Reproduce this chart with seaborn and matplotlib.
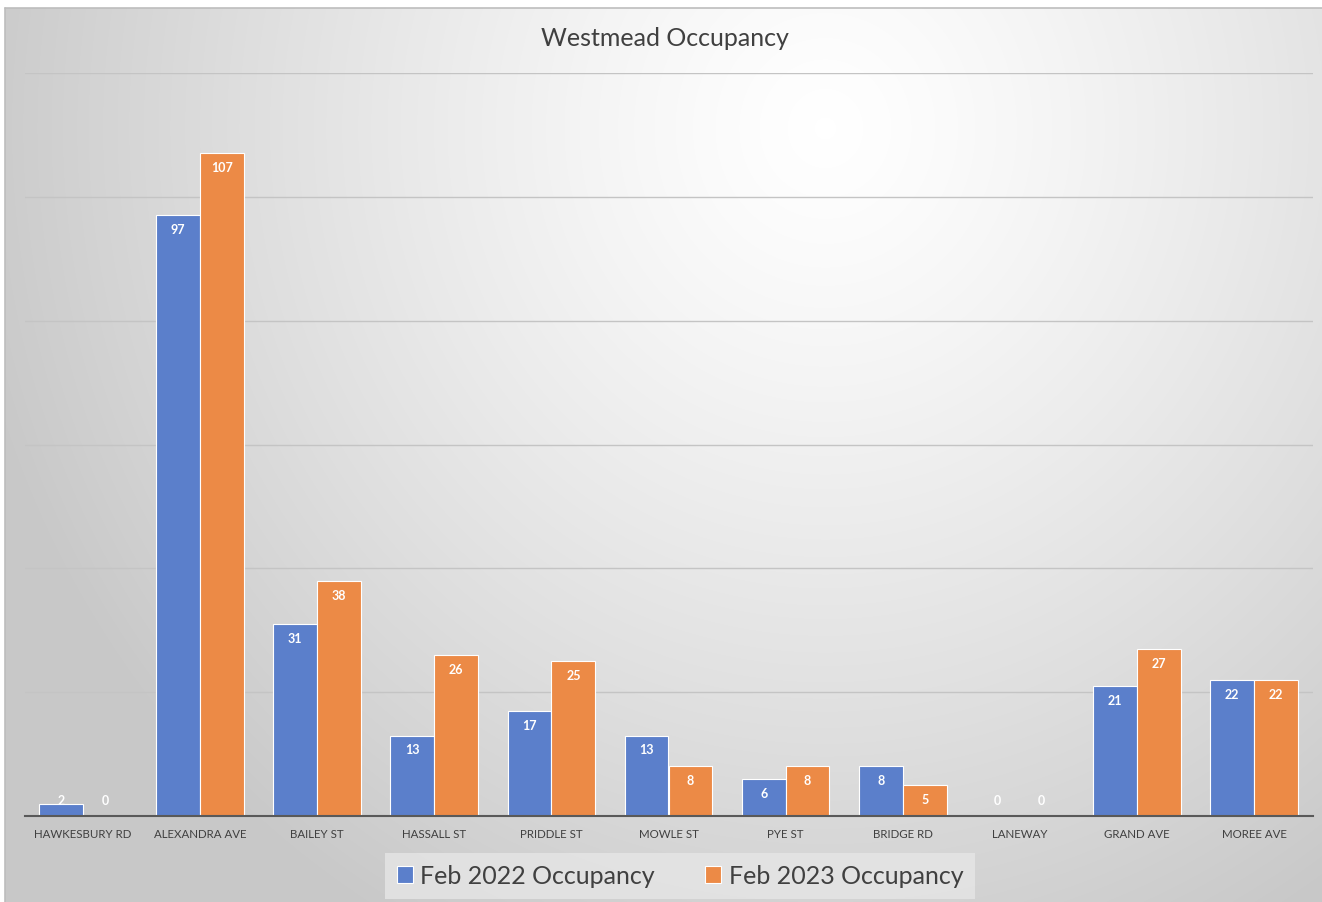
import numpy as np
import pandas as pd
import seaborn as sns
import matplotlib.pyplot as plt
from matplotlib.colors import LinearSegmentedColormap

# données
rues = ["HAWKESBURY RD", "ALEXANDRA AVE", "BAILEY ST", "HASSALL ST", "PRIDDLE ST",
        "MOWLE ST", "PYE ST", "BRIDGE RD", "LANEWAY", "GRAND AVE", "MOREE AVE"]
occ_2022 = [2, 97, 31, 13, 17, 13, 6, 8, 0, 21, 22]
occ_2023 = [0, 107, 38, 26, 25, 8, 8, 5, 0, 27, 22]
series = ["Feb 2022 Occupancy", "Feb 2023 Occupancy"]
couleurs = ["#5B7FCB", "#EC8A46"]

df = pd.DataFrame({
    "rue": rues * 2,
    "occupancy": occ_2022 + occ_2023,
    "serie": [series[0]] * len(rues) + [series[1]] * len(rues),
})

sns.set_theme(style="white")
plt.rcParams["font.family"] = ["Liberation Sans Narrow", "Lato", "DejaVu Sans"]

W, H = 1322, 902
fig = plt.figure(figsize=(W / 100, H / 100), dpi=100)
fig.patch.set_facecolor("white")

# fond en dégradé radial (style Excel)
bg = fig.add_axes([5 / W, 0, 1 - 5 / W, 1 - 8 / H], zorder=-5)
yy, xx = np.mgrid[0:894, 0:1317]
r = np.sqrt(((xx - 820) / 1.0) ** 2 + ((yy - 120) / 1.05) ** 2)
g = np.clip(r / 880, 0, 1) ** 1.25
cmap_bg = LinearSegmentedColormap.from_list("bg", ["#ffffff", "#c8c8c8"])
bg.imshow(g, cmap=cmap_bg, aspect="auto", vmin=0, vmax=1, interpolation="bilinear")
bg.set_axis_off()
fig.add_artist(plt.Line2D([5 / W, 1], [1 - 8 / H, 1 - 8 / H], color="#bdbdbd", lw=1.2,
                          transform=fig.transFigure))
fig.add_artist(plt.Line2D([5 / W, 5 / W], [0, 1 - 8 / H], color="#bdbdbd", lw=1.2,
                          transform=fig.transFigure))

ax = fig.add_axes([24.5 / W, 86 / H, 1288 / W, 743 / H])
ax.set_facecolor("none")
sns.barplot(data=df, x="rue", y="occupancy", hue="serie", palette=couleurs,
            width=0.75, edgecolor="white", linewidth=0.8, saturation=1, ax=ax)

ax.set_ylim(0, 120)
ax.set_yticks(range(0, 121, 20))
ax.set_yticklabels([])
ax.tick_params(axis="y", length=0)
ax.yaxis.grid(True, color="#c4c4c4", lw=1)
ax.set_axisbelow(True)
for s in ["top", "right", "left"]:
    ax.spines[s].set_visible(False)
ax.spines["bottom"].set_color("#595959")
ax.spines["bottom"].set_linewidth(1.5)
ax.set_xlabel("")
ax.set_ylabel("")
ax.tick_params(axis="x", length=0, pad=9, labelsize=8.3, colors="#404040")

# étiquettes de données (intérieur, en haut de la barre)
for cont in ax.containers:
    for bar in cont:
        v = bar.get_height()
        xc = bar.get_x() + bar.get_width() / 2
        ax.text(xc, max(v - 2.4, 2.4), f"{int(round(v))}", ha="center", va="center",
                color="white", fontsize=9, fontweight="bold")

fig.text(0.503, 1 - 38 / H, "Westmead Occupancy", ha="center", va="center",
         fontsize=18, color="#404040", family=["Lato", "DejaVu Sans"])

leg = ax.legend(loc="center", bbox_to_anchor=(680 / W, 26 / H), bbox_transform=fig.transFigure,
                ncol=2, frameon=True, handlelength=0.65, handleheight=0.65,
                handletextpad=0.3, columnspacing=2.0, borderpad=0.45,
                prop={"family": ["Lato", "DejaVu Sans"], "size": 18})
leg.get_frame().set_facecolor("#e6e6e6")
leg.get_frame().set_edgecolor("none")
leg.get_frame().set_alpha(0.8)
leg.get_frame().set_boxstyle("square", pad=0.0)
for t in leg.get_texts():
    t.set_color("#404040")

fig.savefig("out.png", dpi=100)
